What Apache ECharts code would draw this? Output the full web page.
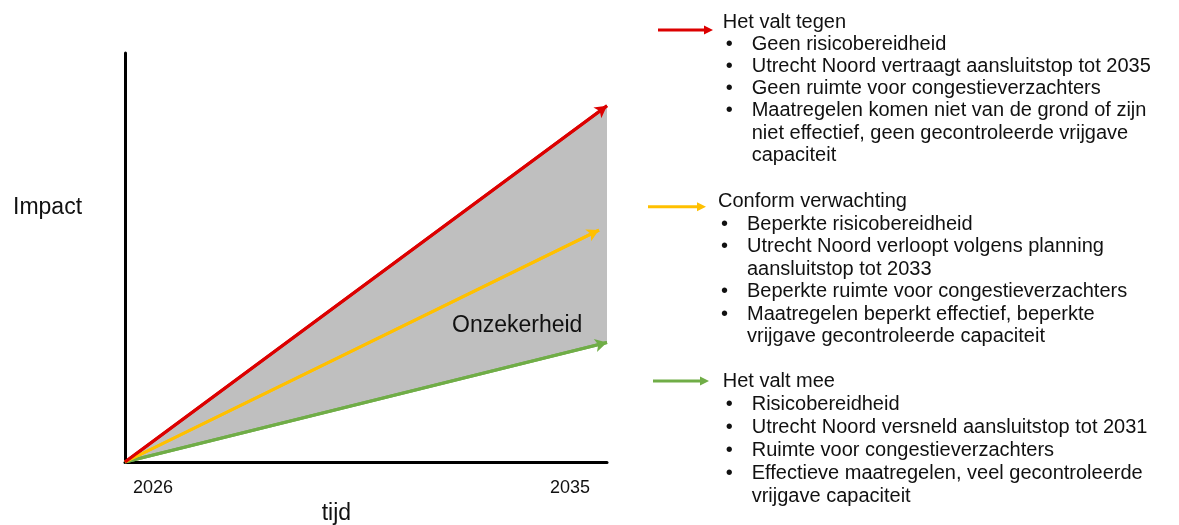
<!DOCTYPE html>
<html>
<head>
<meta charset="utf-8">
<script src="https://cdn.jsdelivr.net/npm/echarts@6/dist/echarts.min.js"></script>
<style>
html,body{margin:0;padding:0;background:#fff;}
#chart{width:1179px;height:525px;}
</style>
</head>
<body>
<div id="chart"></div>
<script>
// ---- data ----
const years = [2026, 2035];
const yellowYears = [2026, 2034.85];
const redValues = [0, 87.1];     // Het valt tegen
const yellowValues = [0, 56.7];  // Conform verwachting
const greenValues = [0, 29.2];   // Het valt mee
const xTickLabels = ['2026', '2035'];
const yAxisTitle = 'Impact';
const xAxisTitle = 'tijd';
const bandLabel = 'Onzekerheid';
const scenarioTitles = ['Het valt tegen', 'Conform verwachting', 'Het valt mee'];
const redBullets = [
  ['Geen risicobereidheid'],
  ['Utrecht Noord vertraagt aansluitstop tot 2035'],
  ['Geen ruimte voor congestieverzachters'],
  ['Maatregelen komen niet van de grond of zijn', 'niet effectief, geen gecontroleerde vrijgave', 'capaciteit']
];
const yellowBullets = [
  ['Beperkte risicobereidheid'],
  ['Utrecht Noord verloopt volgens planning', 'aansluitstop tot 2033'],
  ['Beperkte ruimte voor congestieverzachters'],
  ['Maatregelen beperkt effectief, beperkte', 'vrijgave gecontroleerde capaciteit']
];
const greenBullets = [
  ['Risicobereidheid'],
  ['Utrecht Noord versneld aansluitstop tot 2031'],
  ['Ruimte voor congestieverzachters'],
  ['Effectieve maatregelen, veel gecontroleerde', 'vrijgave capaciteit']
];

// ---- styles ----
const RED = '#DC0000', YELLOW = '#FFC000', GREEN = '#70AD47', GRAY = '#BFBFBF';
const FONT = '"Liberation Sans", Arial, sans-serif';
const TXT = '#111';

const chart = echarts.init(document.getElementById('chart'), null, {renderer: 'canvas'});

function pairs(xs, ys) { return xs.map((x, i) => [x, ys[i]]); }

function arrowSeries(name, xs, ys, color) {
  const pts = pairs(xs, ys);
  return {
    name, type: 'line', data: pts, symbol: 'none', silent: true, z: 5,
    lineStyle: {color, width: 3},
    markLine: {
      silent: true, animation: false,
      symbol: ['none', 'arrow'], symbolSize: [10, 12],
      label: {show: false},
      lineStyle: {color, width: 3, type: 'solid'},
      data: [[{coord: pts[0]}, {coord: pts[pts.length - 1]}]]
    }
  };
}

// uncertainty band between the red and green scenario lines
const bandSeries = {
  name: 'band', type: 'custom', silent: true, z: 1,
  data: years.map((x, i) => [x, greenValues[i], redValues[i]]),
  renderItem: function (params, api) {
    if (params.dataIndex !== 0) return null;
    const upper = years.map((x, i) => api.coord([x, redValues[i]]));
    const lower = years.map((x, i) => api.coord([x, greenValues[i]])).reverse();
    return {type: 'polygon', shape: {points: upper.concat(lower)}, style: {fill: GRAY}};
  }
};

// legend (right-hand text blocks)
const graphics = [];
function addText(x, y, text, size) {
  graphics.push({
    type: 'text', x, y, z: 100,
    style: {text, fill: TXT, font: size + 'px ' + FONT, textVerticalAlign: 'middle', textAlign: 'left'}
  });
}
function addArrow(x1, x2, y, color) {
  graphics.push({type: 'line', shape: {x1, y1: y, x2: x2 - 8, y2: y}, style: {stroke: color, lineWidth: 3}});
  graphics.push({type: 'polygon', shape: {points: [[x2 - 9, y - 4.5], [x2, y], [x2 - 9, y + 4.5]]}, style: {fill: color}});
}
function addBlock(title, bullets, tx, ty, lh, color, ax1, ax2, ay) {
  addArrow(ax1, ax2, ay, color);
  addText(tx, ty, title, 20);
  let y = ty + lh;
  bullets.forEach(b => {
    addText(tx + 3, y, '•', 20);
    b.forEach(line => { addText(tx + 29, y, line, 20); y += lh; });
  });
}
addBlock(scenarioTitles[0], redBullets, 722.7, 22, 22.2, RED, 658, 713, 30);
addBlock(scenarioTitles[1], yellowBullets, 718, 201.7, 22.5, YELLOW, 648, 706, 206.7);
addBlock(scenarioTitles[2], greenBullets, 722.7, 381.7, 23, GREEN, 653, 709, 381);

addText(13, 208, yAxisTitle, 23);
addText(321.7, 514, xAxisTitle, 23);
addText(452, 326, bandLabel, 23);

chart.setOption({
  animation: false,
  backgroundColor: '#fff',
  grid: {left: 125, top: 53, width: 482, height: 409, containLabel: false},
  xAxis: {
    type: 'value', min: 2026, max: 2035, interval: 9,
    axisLine: {show: true, onZero: false, lineStyle: {color: '#000', width: 3}},
    axisTick: {show: false}, splitLine: {show: false},
    axisLabel: {
      show: true, margin: 17, fontSize: 18, color: TXT, fontFamily: FONT,
      alignMinLabel: 'left', alignMaxLabel: 'right', padding: [0, 17, 0, 8],
      formatter: v => (v === 2026 ? xTickLabels[0] : v === 2035 ? xTickLabels[1] : '')
    }
  },
  yAxis: {
    type: 'value', min: 0, max: 100,
    axisLine: {show: true, onZero: false, lineStyle: {color: '#000', width: 3}},
    axisTick: {show: false}, splitLine: {show: false}, axisLabel: {show: false}
  },
  series: [
    bandSeries,
    arrowSeries('Het valt mee', years, greenValues, GREEN),
    arrowSeries('Conform verwachting', yellowYears, yellowValues, YELLOW),
    arrowSeries('Het valt tegen', years, redValues, RED)
  ],
  graphic: {elements: graphics, z: 100}
});
</script>
</body>
</html>
